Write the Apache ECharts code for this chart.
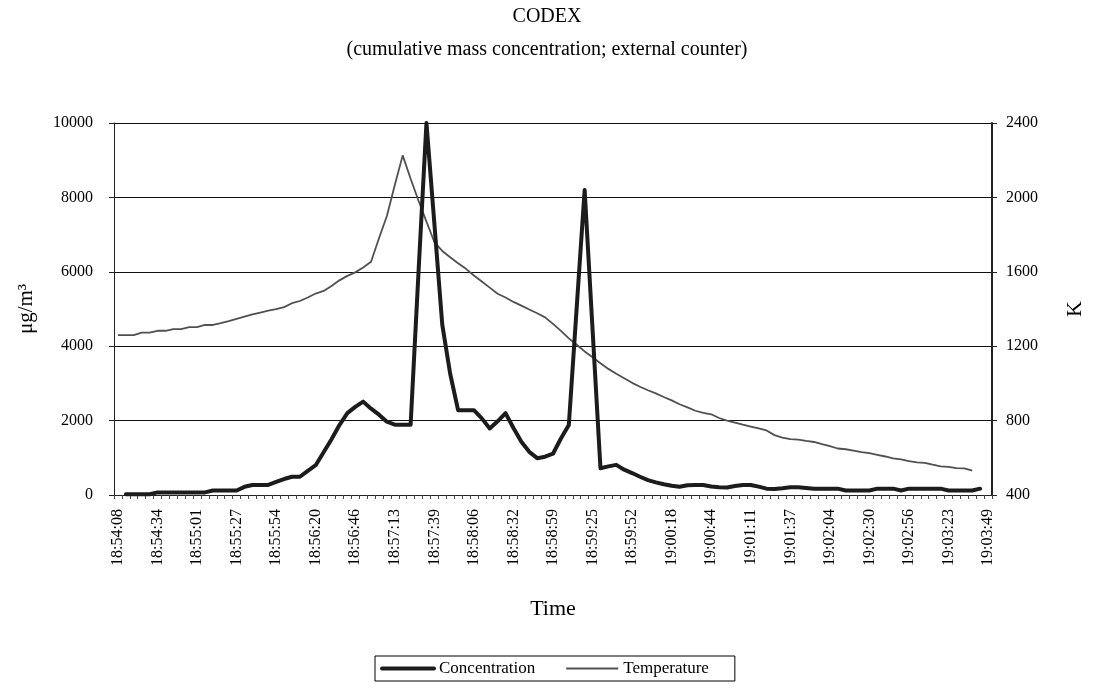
<!DOCTYPE html>
<html>
<head>
<meta charset="utf-8">
<script src="https://cdn.jsdelivr.net/npm/echarts@6/dist/echarts.min.js"></script>
<style>
  html, body { margin: 0; padding: 0; background: #fff; overflow: hidden; width: 1094px; height: 691px; }
  #chart { width: 1094px; height: 691px; }
</style>
</head>
<body>
<div id="chart"></div>
<script>
// Sampling times (one category per reading)
const times = [
  '18:54:08','18:54:13','18:54:19','18:54:24','18:54:29','18:54:34','18:54:40','18:54:45','18:54:50','18:54:56',
  '18:55:01','18:55:06','18:55:11','18:55:17','18:55:22','18:55:27','18:55:33','18:55:38','18:55:43','18:55:48',
  '18:55:54','18:55:59','18:56:04','18:56:09','18:56:15','18:56:20','18:56:25','18:56:31','18:56:36','18:56:41',
  '18:56:46','18:56:52','18:56:57','18:57:02','18:57:08','18:57:13','18:57:18','18:57:23','18:57:29','18:57:34',
  '18:57:39','18:57:45','18:57:50','18:57:55','18:58:00','18:58:06','18:58:11','18:58:16','18:58:22','18:58:27',
  '18:58:32','18:58:37','18:58:43','18:58:48','18:58:53','18:58:59','18:59:04','18:59:09','18:59:14','18:59:20',
  '18:59:25','18:59:30','18:59:35','18:59:41','18:59:46','18:59:52','18:59:57','19:00:02','19:00:07','19:00:12',
  '19:00:18','19:00:23','19:00:28','19:00:34','19:00:39','19:00:44','19:00:49','19:00:55','19:01:00','19:01:05',
  '19:01:11','19:01:16','19:01:21','19:01:26','19:01:32','19:01:37','19:01:42','19:01:48','19:01:53','19:01:58',
  '19:02:04','19:02:09','19:02:14','19:02:19','19:02:24','19:02:30','19:02:35','19:02:40','19:02:46','19:02:51',
  '19:02:56','19:03:01','19:03:07','19:03:12','19:03:17','19:03:23','19:03:28','19:03:33','19:03:38','19:03:44',
  '19:03:49'
];

// Cumulative mass concentration, µg/m³
const concentration = [
  null, 20, 20, 20, 20, 70, 70, 70, 70, 70,
  70, 70, 120, 120, 120, 120, 220, 270, 270, 270,
  350, 430, 490, 490, 650, 800, 1150, 1500, 1880, 2200,
  2370, 2510, 2320, 2160, 1970, 1890, 1890, 1890, 6000, 10000,
  7300, 4580, 3260, 2280, 2280, 2280, 2060, 1790, 1980, 2200,
  1800, 1430, 1160, 990, 1030, 1110, 1520, 1880, 5050, 8200,
  4450, 720, 770, 810, 680, 590, 490, 400, 340, 290,
  250, 220, 260, 270, 270, 230, 210, 200, 240, 270,
  270, 224, 170, 160, 180, 210, 210, 190, 170, 170,
  170, 170, 120, 120, 120, 120, 170, 170, 170, 120,
  170, 170, 170, 170, 170, 120, 120, 120, 120, 170,
  null
];

// Temperature, K
const temperature = [
  1260, 1260, 1260, 1273, 1273, 1283, 1283, 1292, 1292, 1303,
  1303, 1314, 1314, 1324, 1335, 1347, 1359, 1371, 1381, 1391,
  1399, 1410, 1431, 1443, 1462, 1483, 1497, 1524, 1554, 1578,
  1597, 1623, 1654, 1780, 1900, 2067, 2226, 2100, 1982, 1870,
  1760, 1712, 1678, 1646, 1616, 1580, 1548, 1515, 1482, 1462,
  1438, 1418, 1397, 1377, 1355, 1320, 1282, 1242, 1208, 1172,
  1141, 1108, 1078, 1052, 1028, 1003, 982, 963, 946, 927,
  909, 888, 871, 853, 841, 834, 814, 800, 789, 778,
  768, 758, 747, 722, 708, 700, 698, 691, 685, 673,
  663, 650, 646, 639, 630, 625, 616, 607, 597, 592,
  582, 575, 573, 563, 554, 551, 544, 543, 531, null,
  null
];

const leftTicks = { min: 0, max: 10000, interval: 2000 };
const rightTicks = { min: 400, max: 2400, interval: 400 };

const serif = 'Liberation Serif';
const ink = '#000';
const concColor = '#1c1c1c';
const tempColor = '#505050';

const chart = echarts.init(document.getElementById('chart'), null, { renderer: 'canvas', width: 1094, height: 691 });

chart.setOption({
  backgroundColor: '#fff',
  animation: false,
  title: {
    text: 'CODEX',
    subtext: '(cumulative mass concentration; external counter)',
    left: 'center',
    top: 2,
    itemGap: 13,
    textStyle: { fontFamily: serif, fontSize: 20, fontWeight: 'normal', color: ink },
    subtextStyle: { fontFamily: serif, fontSize: 20, color: ink }
  },
  grid: { left: 114, right: 94, top: 123, bottom: 196, containLabel: false },
  legend: {
    left: 375,
    top: 656,
    width: 360,
    padding: [4, 26, 4, 5],
    itemGap: 30,
    itemWidth: 52,
    itemHeight: 14,
    borderColor: '#000',
    borderWidth: 1,
    itemStyle: { opacity: 0 },
    textStyle: { fontFamily: serif, fontSize: 17, color: ink },
    data: [
      { name: 'Concentration', lineStyle: { width: 4, color: concColor } },
      { name: 'Temperature', lineStyle: { width: 1.8, color: tempColor } }
    ]
  },
  xAxis: {
    type: 'category',
    data: times,
    boundaryGap: true,
    name: 'Time',
    nameLocation: 'middle',
    nameGap: 103,
    nameTextStyle: { fontFamily: serif, fontSize: 22, color: ink },
    axisLine: { lineStyle: { color: '#222', width: 1 } },
    axisTick: { show: true, interval: 0, length: 4, lineStyle: { color: '#444' } },
    axisLabel: {
      interval: 4,
      rotate: 90,
      margin: 14,
      fontFamily: serif,
      fontSize: 16,
      color: ink
    },
    splitLine: { show: false }
  },
  yAxis: [
    {
      type: 'value',
      min: leftTicks.min,
      max: leftTicks.max,
      interval: leftTicks.interval,
      name: 'μg/m³',
      nameLocation: 'middle',
      nameGap: 77,
      nameTextStyle: { fontFamily: serif, fontSize: 21, color: ink },
      axisLine: { show: true, lineStyle: { color: '#222', width: 1 } },
      axisTick: { show: true, length: 5, lineStyle: { color: '#222' } },
      axisLabel: { fontFamily: serif, fontSize: 16, color: ink, margin: 21, formatter: v => String(v) },
      splitLine: { show: true, lineStyle: { color: '#111', width: 1 } }
    },
    {
      type: 'value',
      min: rightTicks.min,
      max: rightTicks.max,
      interval: rightTicks.interval,
      name: 'K',
      nameLocation: 'middle',
      nameGap: 72,
      nameTextStyle: { fontFamily: serif, fontSize: 22, color: ink },
      axisLine: { show: true, lineStyle: { color: '#222', width: 2 } },
      axisTick: { show: true, length: 5, lineStyle: { color: '#222' } },
      axisLabel: { fontFamily: serif, fontSize: 16, color: ink, margin: 14, formatter: v => String(v) },
      splitLine: { show: false }
    }
  ],
  series: [
    {
      name: 'Concentration',
      type: 'line',
      yAxisIndex: 0,
      data: concentration,
      symbol: 'none',
      smooth: false,
      z: 3,
      lineStyle: { color: concColor, width: 4, join: 'round', cap: 'round' },
      itemStyle: { color: concColor }
    },
    {
      name: 'Temperature',
      type: 'line',
      yAxisIndex: 1,
      data: temperature,
      symbol: 'none',
      smooth: false,
      z: 2,
      lineStyle: { color: tempColor, width: 1.8 },
      itemStyle: { color: tempColor }
    }
  ]
});
</script>
</body>
</html>
